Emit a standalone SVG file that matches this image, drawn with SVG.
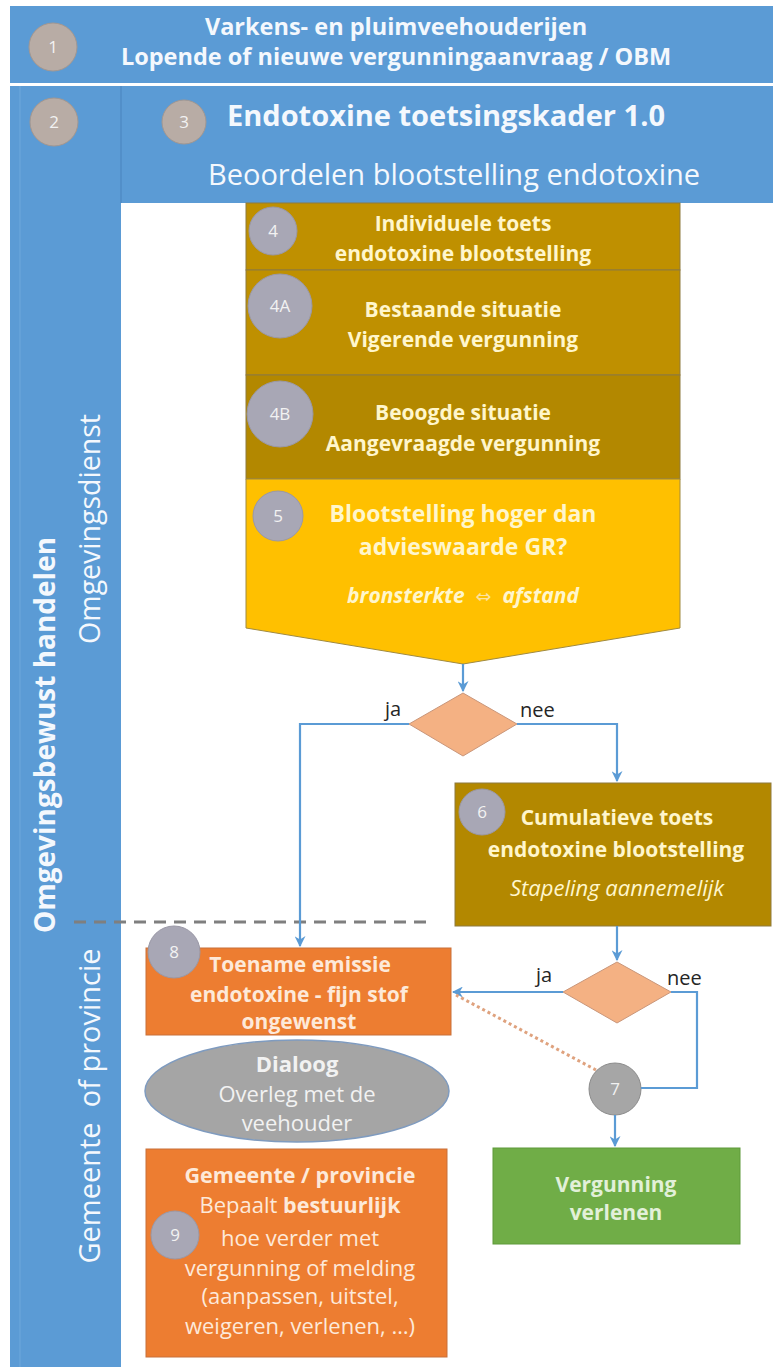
<svg xmlns="http://www.w3.org/2000/svg" width="773" height="1368" viewBox="0 0 773 1368">
<defs>
<style>
text{font-family:"Open Sans","Liberation Sans",sans-serif}
.band{fill:#5B9BD5}
.wt{fill:#F4F8FD}
.b{font-weight:bold}
.c{text-anchor:middle}
.numA{fill:#B8ACA5;stroke:#A39790;stroke-width:1}
.numB{fill:#A8A7B5;stroke:#9A98A6;stroke-width:1}
.nt{fill:#F2F2F2;font-size:17px;text-anchor:middle}
.brown{fill:#BF9000;stroke:#8E7A3E;stroke-width:1}
.brown2{fill:#B38800;stroke:#8E7A3E;stroke-width:1}
.ct{fill:#FFF6CC;text-anchor:middle}
.ot{fill:#FDE9D9;text-anchor:middle}
.orange{fill:#ED7D31;stroke:#C8703A;stroke-width:1}
.dia{fill:#F4B183;stroke:#C9967A;stroke-width:1}
.conn{fill:none;stroke:#5B9BD5;stroke-width:2.2}
.lbl{fill:#262626;font-size:20px}
</style>
<marker id="ah" viewBox="0 0 10 10" refX="9" refY="5" markerWidth="5" markerHeight="5" orient="auto">
<path d="M0,0 L10,5 L0,10 L3,5 z" fill="#5B9BD5"/>
</marker>
</defs>
<rect width="773" height="1368" fill="#FFFFFF"/>

<g id="band1">
<rect class="band" x="10" y="6" width="763" height="77"/>
<circle class="numA" cx="53" cy="47" r="24"/>
<text class="nt" x="53" y="53">1</text>
<text class="wt b c" x="396" y="35" font-size="23.5">Varkens- en pluimveehouderijen</text>
<text class="wt b c" x="396" y="65" font-size="23.5">Lopende of nieuwe vergunningaanvraag / OBM</text>
</g>

<g id="lane2">
<rect class="band" x="10" y="86" width="111" height="1281"/>
<line x1="20" y1="86" x2="20" y2="1367" stroke="#6FA8DC" stroke-width="1"/>
<circle class="numA" cx="54" cy="122" r="24"/>
<text class="nt" x="54" y="128">2</text>
<text class="wt b c" transform="translate(55,735) rotate(-90)" font-size="28">Omgevingsbewust handelen</text>
<text class="wt c" transform="translate(100,529) rotate(-90)" font-size="28.5">Omgevingsdienst</text>
<text class="wt c" transform="translate(100,1106) rotate(-90)" font-size="29" xml:space="preserve">Gemeente  of provincie</text>
</g>

<g id="band3">
<rect class="band" x="121" y="86" width="652" height="117"/>
<line x1="121" y1="86" x2="121" y2="203" stroke="#4F8BC4" stroke-width="1.5"/>
<circle class="numA" cx="184" cy="122" r="22"/>
<text class="nt" x="184" y="128">3</text>
<text class="wt b c" x="446" y="126" font-size="29">Endotoxine toetsingskader 1.0</text>
<text class="wt c" x="454" y="185" font-size="29">Beoordelen blootstelling endotoxine</text>
</g>

<g id="node4">
<rect class="brown" x="246" y="203" width="434" height="67"/>
<circle class="numB" cx="273" cy="231" r="24"/>
<text class="nt" x="273" y="237">4</text>
<text class="ct b" x="463" y="231" font-size="21">Individuele toets</text>
<text class="ct b" x="463" y="261" font-size="21">endotoxine blootstelling</text>
</g>

<g id="node4A">
<rect class="brown" x="246" y="270" width="434" height="105"/>
<circle class="numB" cx="280" cy="306" r="32"/>
<text class="nt" x="280" y="312">4A</text>
<text class="ct b" x="463" y="317" font-size="21">Bestaande situatie</text>
<text class="ct b" x="463" y="347" font-size="21">Vigerende vergunning</text>
</g>

<g id="node4B">
<rect class="brown2" x="246" y="375" width="434" height="104"/>
<circle class="numB" cx="280" cy="414" r="33"/>
<text class="nt" x="280" y="420">4B</text>
<text class="ct b" x="463" y="420" font-size="21">Beoogde situatie</text>
<text class="ct b" x="463" y="451" font-size="21">Aangevraagde vergunning</text>
</g>

<g id="node5">
<path d="M246,479 H680 V628 L463,664 L246,628 Z" fill="#FFC000" stroke="#A08A40" stroke-width="1"/>
<circle class="numB" cx="278" cy="516" r="25"/>
<text class="nt" x="278" y="522">5</text>
<text class="ct b" x="463" y="522" font-size="23">Blootstelling hoger dan</text>
<text class="ct b" x="463" y="555" font-size="23">advieswaarde GR?</text>
<text class="ct b" x="463" y="603" font-size="21" font-style="italic" xml:space="preserve">bronsterkte  <tspan font-family="'DejaVu Sans',sans-serif" font-style="normal" font-weight="normal" font-size="19" fill="#FBE3A0">⇔</tspan>  afstand</text>
</g>

<g id="decision1">
<path class="dia" d="M463,693 L517,724 L463,756 L409,724 Z"/>
</g>

<g id="node6">
<rect class="brown2" x="455" y="783" width="316" height="143"/>
<circle class="numB" cx="482" cy="812" r="23"/>
<text class="nt" x="482" y="818">6</text>
<text class="ct b" x="617" y="825" font-size="21">Cumulatieve toets</text>
<text class="ct b" x="616" y="857" font-size="21">endotoxine blootstelling</text>
<text class="ct" x="617" y="896" font-size="22" font-style="italic">Stapeling aannemelijk</text>
</g>

<g id="decision2">
<path class="dia" d="M617,962 L671,992 L617,1023 L563,992 Z"/>
</g>

<g id="node8">
<rect class="orange" x="146" y="948" width="305" height="87"/>
<circle class="numB" cx="174" cy="952" r="26"/>
<text class="nt" x="174" y="958">8</text>
<text class="ot b" x="300" y="972" font-size="21">Toename emissie</text>
<text class="ot b" x="299" y="1002" font-size="21">endotoxine - fijn stof</text>
<text class="ot b" x="299" y="1029" font-size="21">ongewenst</text>
</g>

<g id="dialoog">
<ellipse cx="297" cy="1091" rx="152" ry="51" fill="#A5A5A5" stroke="#7F9BBF" stroke-width="1.5"/>
<text class="c b" x="297" y="1072" font-size="22" fill="#F2F2F2">Dialoog</text>
<text class="c" x="297" y="1102" font-size="22" fill="#F2F2F2">Overleg met de</text>
<text class="c" x="297" y="1131" font-size="22" fill="#F2F2F2">veehouder</text>
</g>

<g id="node9">
<rect class="orange" x="146" y="1149" width="301" height="208"/>
<circle class="numB" cx="175" cy="1235" r="24"/>
<text class="nt" x="175" y="1241">9</text>
<text class="ot b" x="300" y="1183" font-size="21.5">Gemeente / provincie</text>
<text class="ot" x="300" y="1213" font-size="22">Bepaalt <tspan font-weight="bold" font-size="21.5">bestuurlijk</tspan></text>
<text class="ot" x="300" y="1246" font-size="22">hoe verder met</text>
<text class="ot" x="300" y="1276" font-size="22">vergunning of melding</text>
<text class="ot" x="300" y="1304" font-size="22">(aanpassen, uitstel,</text>
<text class="ot" x="300" y="1334" font-size="22">weigeren, verlenen, …)</text>
</g>

<g id="node7">
<circle cx="615" cy="1089" r="26" fill="#A6A6A6" stroke="#8C8C8C" stroke-width="1"/>
<text class="nt" x="615" y="1095">7</text>
</g>

<g id="vergunning">
<rect x="493" y="1148" width="247" height="96" fill="#70AD47" stroke="#5E9A3A" stroke-width="1"/>
<text class="c b" x="616" y="1192" font-size="21" fill="#E2F0D9">Vergunning</text>
<text class="c b" x="616" y="1220" font-size="21" fill="#E2F0D9">verlenen</text>
</g>

<g id="connectors">
<line x1="74" y1="922" x2="434" y2="922" stroke="#7F7F7F" stroke-width="3" stroke-dasharray="12 8"/>
<path class="conn" d="M463,664 V691" marker-end="url(#ah)"/>
<path class="conn" d="M409,724 H300 V946" marker-end="url(#ah)"/>
<path class="conn" d="M517,724 H617 V781" marker-end="url(#ah)"/>
<path class="conn" d="M617,926 V960" marker-end="url(#ah)"/>
<path class="conn" d="M563,992 H453" marker-end="url(#ah)"/>
<path class="conn" d="M671,992 H697 V1088 H641"/>
<path class="conn" d="M615,1115 V1146" marker-end="url(#ah)"/>
<path d="M596,1070 L456,995" fill="none" stroke="#DFA27E" stroke-width="3" stroke-dasharray="3 3"/>
<text class="lbl" x="385" y="716">ja</text>
<text class="lbl" x="520" y="717">nee</text>
<text class="lbl" x="536" y="982">ja</text>
<text class="lbl" x="667" y="985">nee</text>
</g>
</svg>
